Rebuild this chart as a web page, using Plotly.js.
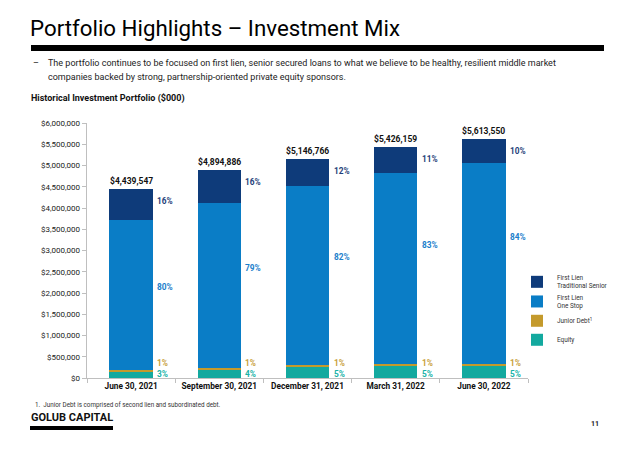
<!DOCTYPE html>
<html>
<head>
<meta charset="utf-8">
<script src="https://cdn.plot.ly/plotly-3.0.1.min.js"></script>
<style>html,body{margin:0;padding:0;background:#fff;}#chart{width:640px;height:451px;}</style>
</head>
<body>
<div id="chart"></div>
<script>
// ---- data ----
const categories = ["June 30, 2021", "September 30, 2021", "December 31, 2021", "March 31, 2022", "June 30, 2022"];
const equity = [132547, 196886, 256766, 276159, 288550];
const juniorDebt = [45000, 45000, 40000, 45000, 45000];
const firstLienOneStop = [3550000, 3870000, 4220000, 4505000, 4715000];
const firstLienTraditional = [712000, 783000, 630000, 600000, 565000];
const totals = [4439547, 4894886, 5146766, 5426159, 5613550];
const pctTraditional = ["16%", "16%", "12%", "11%", "10%"];
const pctOneStop = ["80%", "79%", "82%", "83%", "84%"];
const pctJunior = ["1%", "1%", "1%", "1%", "1%"];
const pctEquity = ["3%", "4%", "5%", "5%", "5%"];
const yTickVals = [0, 500000, 1000000, 1500000, 2000000, 2500000, 3000000, 3500000, 4000000, 4500000, 5000000, 5500000, 6000000];

// ---- style ----
const C_TRAD = "#0E3B7A", C_ONE = "#0A7DC6", C_JUN = "#C49A2C", C_EQ = "#13A99F";
const FONT = "Roboto, sans-serif";
const W = 640, H = 451, ML = 87, MR = 112, MT = 123, MB = 73;
const PW = W - ML - MR, PH = H - MT - MB;
const px = x => (x - ML) / PW;
const py = y => (H - MB - y) / PH;
const fmt = v => "$" + v.toLocaleString("en-US");

const traces = [
  {name: "Equity", y: equity, marker: {color: C_EQ}},
  {name: "Junior Debt<sup>1</sup>", y: juniorDebt, marker: {color: C_JUN}},
  {name: "First Lien<br>One Stop", y: firstLienOneStop, marker: {color: C_ONE}},
  {name: "First Lien<br>Traditional Senior", y: firstLienTraditional, marker: {color: C_TRAD}}
].map(t => Object.assign({type: "bar", x: categories, hoverinfo: "skip"}, t));

const ann = [];
categories.forEach((c, i) => {
  ann.push({x: c, y: totals[i], xref: "x", yref: "y", text: "<b>" + fmt(totals[i]) + "</b>",
    showarrow: false, yanchor: "bottom", yshift: 1, font: {family: FONT, size: 8.5, color: "#111"}});
  const side = {x: c, xref: "x", yref: "y", showarrow: false, xanchor: "left", yanchor: "middle", xshift: 24};
  ann.push(Object.assign({}, side, {y: totals[i], yshift: -12, text: "<b>" + pctTraditional[i] + "</b>", font: {family: FONT, size: 8.3, color: "#1F3F7A"}}));
  ann.push(Object.assign({}, side, {y: totals[i], yshift: -98, text: "<b>" + pctOneStop[i] + "</b>", font: {family: FONT, size: 8.3, color: "#1A7ECB"}}));
  ann.push(Object.assign({}, side, {y: 0, yshift: 15, text: "<b>" + pctJunior[i] + "</b>", font: {family: FONT, size: 8.3, color: "#C9A13B"}}));
  ann.push(Object.assign({}, side, {y: 0, yshift: 4.5, text: "<b>" + pctEquity[i] + "</b>", font: {family: FONT, size: 8.3, color: "#17B2A7"}}));
});

const paperText = (x, y, text, font, xanchor) => ({xref: "paper", yref: "paper", x: px(x), y: py(y), text: text,
  showarrow: false, xanchor: xanchor || "left", yanchor: "middle", font: font});

ann.push(paperText(31, 63, "–", {family: FONT, size: 9, color: "#222"}));
ann.push(paperText(46, 63, "The portfolio continues to be focused on first lien, senior secured loans to what we believe to be healthy, resilient middle market", {family: FONT, size: 9, color: "#222"}));
ann.push(paperText(46, 77, "companies backed by strong, partnership-oriented private equity sponsors.", {family: FONT, size: 9, color: "#222"}));
ann.push(paperText(29, 99, "<b>Historical Investment Portfolio ($000)</b>", {family: FONT, size: 9, color: "#111"}));
ann.push(paperText(33, 405, "1.  Junior Debt is comprised of second lien and subordinated debt.", {family: FONT, size: 6.3, color: "#333"}));
ann.push(paperText(29, 418, "<b>GOLUB CAPITAL</b>", {family: FONT, size: 11, color: "#111"}));
ann.push(paperText(589, 424, "<b>11</b>", {family: FONT, size: 7, color: "#222"}));

const shapes = [
  {type: "rect", xref: "paper", yref: "paper", x0: px(31), x1: px(604), y0: py(45), y1: py(51), fillcolor: "#000", line: {width: 0}},
  {type: "rect", xref: "paper", yref: "paper", x0: px(30), x1: px(113), y0: py(426), y1: py(430), fillcolor: "#000", line: {width: 0}}
];

const layout = {
  width: W, height: H,
  margin: {l: ML, r: MR, t: MT, b: MB, pad: 0},
  paper_bgcolor: "#fff", plot_bgcolor: "#fff",
  title: {text: "Portfolio Highlights – Investment Mix", xref: "container", x: 30 / W, xanchor: "left",
    yref: "container", y: 1 - 28 / H, yanchor: "middle", font: {family: FONT, size: 22.3, color: "#000"}},
  barmode: "stack", bargap: 0.51,
  showlegend: true,
  legend: {x: px(517), y: py(267), xanchor: "left", yanchor: "top", traceorder: "reversed",
    font: {family: FONT, size: 6.4, color: "#333"}, itemwidth: 30, bgcolor: "rgba(0,0,0,0)"},
  xaxis: {type: "category", showline: true, linecolor: "#BFBFBF", linewidth: 1.3, ticks: "outside", tickson: "boundaries",
    ticklen: 4, tickcolor: "#BFBFBF", showgrid: false, zeroline: false, tickangle: 0,
    tickfont: {family: FONT, size: 8.3, color: "#111"}, tickprefix: "<b>", ticksuffix: "</b>"},
  yaxis: {range: [0, 6000000], tickvals: yTickVals, ticktext: yTickVals.map(fmt), showline: true, linecolor: "#BFBFBF",
    linewidth: 1.3, ticks: "outside", ticklen: 4, tickcolor: "#BFBFBF", showgrid: false, zeroline: false,
    tickfont: {family: FONT, size: 8, color: "#222"}},
  annotations: ann,
  shapes: shapes
};

Plotly.newPlot("chart", traces, layout, {staticPlot: true, displayModeBar: false});
</script>
</body>
</html>
